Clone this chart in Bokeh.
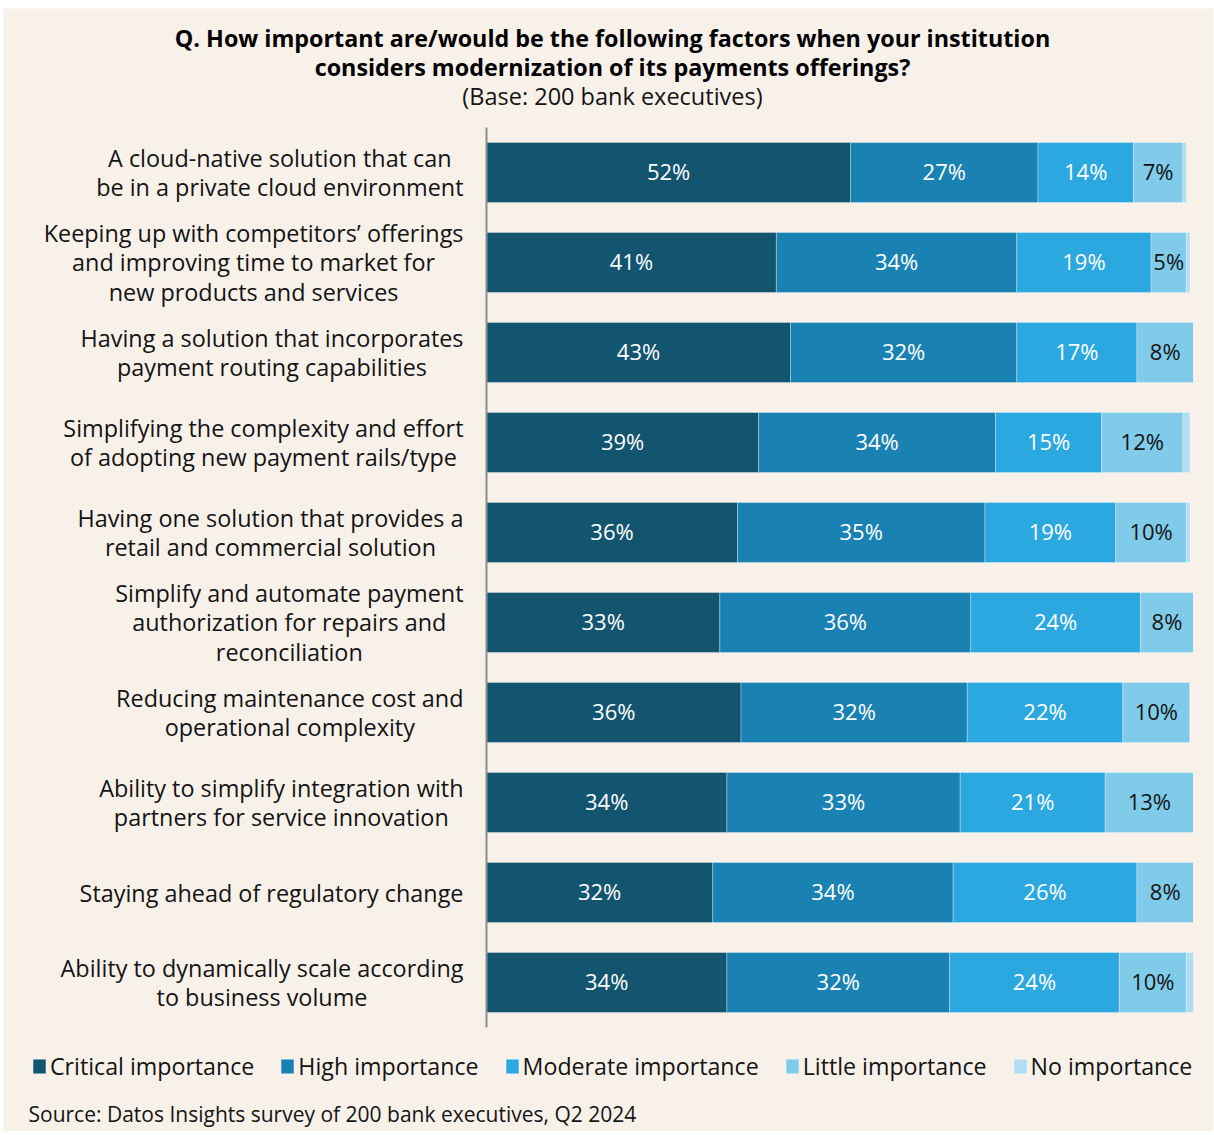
from bokeh.plotting import figure
from bokeh.models import (Range1d, ColumnDataSource, Label, Legend, LegendItem)
from bokeh.core.properties import value
from bokeh.embed import file_html
from bokeh.resources import INLINE

categories = [
    "A cloud-native solution that can\nbe in a private cloud environment",
    "Keeping up with competitors\u2019 offerings\nand improving time to market for\nnew products and services",
    "Having a solution that incorporates\npayment routing capabilities",
    "Simplifying the complexity and effort\nof adopting new payment rails/type",
    "Having one solution that provides a\nretail and commercial solution",
    "Simplify and automate payment\nauthorization for repairs and\nreconciliation",
    "Reducing maintenance cost and\noperational complexity",
    "Ability to simplify integration with\npartners for service innovation",
    "Staying ahead of regulatory change",
    "Ability to dynamically scale according\nto business volume",
]
series_names = ["Critical importance", "High importance", "Moderate importance",
                "Little importance", "No importance"]
critical = [51.5, 41, 43, 38.5, 35.5, 33, 36, 34, 32, 34]
high = [26.5, 34, 32, 33.5, 35, 35.5, 32, 33, 34, 31.5]
moderate = [13.5, 19, 17, 15, 18.5, 24, 22, 20.5, 26, 24]
little = [7, 5, 8, 11.5, 10, 7.5, 9.5, 12.5, 8, 9.5]
no_imp = [0.5, 0.5, 0, 1, 0.5, 0, 0, 0, 0, 1]

title_lines = ["Q. How important are/would be the following factors when your institution",
               "considers modernization of its payments offerings?"]
subtitle = "(Base: 200 bank executives)"
source_note = "Source: Datos Insights survey of 200 bank executives, Q2 2024"

colors = ["#13546f", "#1a82b3", "#2ca8e0", "#80caea", "#b0ddf3"]
label_colors = ["#ffffff", "#ffffff", "#ffffff", "#141414", "#141414"]
BG = "#f8f1ea"
FONT = "Open Sans"

# layout (pixels, figure canvas)
W, H = 1210, 1123
AX_LEFT, AX_RIGHT = 483, 1190      # where 0% and 100% fall
ROW0, ROW_STEP = 164, 90           # centre of first row, row pitch
ppx = (AX_RIGHT - AX_LEFT) / 100.0

series = [critical, high, moderate, little, no_imp]
keys = ["c", "h", "m", "l", "n"]
n = len(categories)
pos = list(range(n))
data = {"pos": pos}
for k, s in zip(keys, series):
    data[k] = s
src = ColumnDataSource(data)

p = figure(width=W, height=H, output_backend="svg", toolbar_location=None,
           x_range=Range1d(-AX_LEFT / ppx, (W - AX_LEFT) / ppx),
           y_range=Range1d((H - ROW0) / ROW_STEP, -ROW0 / ROW_STEP),
           min_border=0, margin=(8, 1, 4, 3))
p.background_fill_color = BG
p.border_fill_color = BG
p.outline_line_color = None
p.xgrid.visible = False
p.ygrid.visible = False
p.xaxis.visible = False
p.yaxis.visible = False

bars = p.hbar_stack(keys, y="pos", height=0.667, source=src, color=colors,
                    line_color="#ffffff", line_alpha=0.3, line_width=1)

# axis line
p.segment(x0=[0], y0=[-0.5], x1=[0], y1=[n - 0.5], line_color="#8c8c8c", line_width=2)

# value labels
lx, ly, lt, lc = [], [], [], []
for i in pos:
    left = 0.0
    for j, s in enumerate(series):
        v = s[i]
        if v >= 3:
            lx.append(left + v / 2)
            ly.append(i)
            lt.append(f"{int(v + 0.5)}%")
            lc.append(label_colors[j])
        left += v
p.text(x="x", y="y", text="t", text_color="c",
       source=ColumnDataSource(dict(x=lx, y=ly, t=lt, c=lc)),
       text_font=value(FONT), text_font_size="22px", text_align="center",
       text_baseline="middle", y_offset=-1.5)

# category labels
for i, cat in enumerate(categories):
    p.add_layout(Label(x=0, y=i, x_offset=-23, text=cat, anchor="center_right",
                       text_align="center", text_baseline="middle",
                       text_font=FONT, text_font_size="23.4px", text_color="#141414",
                       text_line_height=0.92))

# titles
for k, t in enumerate(title_lines):
    p.add_layout(Label(x=0, y=0, x_offset=126, y_offset=135 - 29 * k, text=t,
                       text_align="center", text_baseline="middle", text_font=FONT,
                       text_font_style="bold", text_font_size="23.3px", text_color="#000000"))
p.add_layout(Label(x=0, y=0, x_offset=126, y_offset=77, text=subtitle,
                   text_align="center", text_baseline="middle", text_font=FONT,
                   text_font_size="23.5px", text_color="#141414"))

p.add_layout(Label(x=0, y=n - 1, x_offset=-458, y_offset=-131, text=source_note,
                   text_align="left", text_baseline="middle", text_font=FONT,
                   text_font_size="21px", text_color="#141414"))

# legend
items = [LegendItem(label=name, renderers=[r]) for name, r in zip(series_names, bars)]
legend = Legend(items=items, orientation="horizontal", location=(28, 49),
                padding=0, margin=0, spacing=25, label_standoff=3,
                glyph_width=16, glyph_height=18, label_height=26,
                label_text_font=FONT, label_text_font_size="23.2px",
                label_text_color="#141414", border_line_color=None,
                background_fill_alpha=0)
p.add_layout(legend)

open("out.html", "w").write(file_html(p, INLINE))
